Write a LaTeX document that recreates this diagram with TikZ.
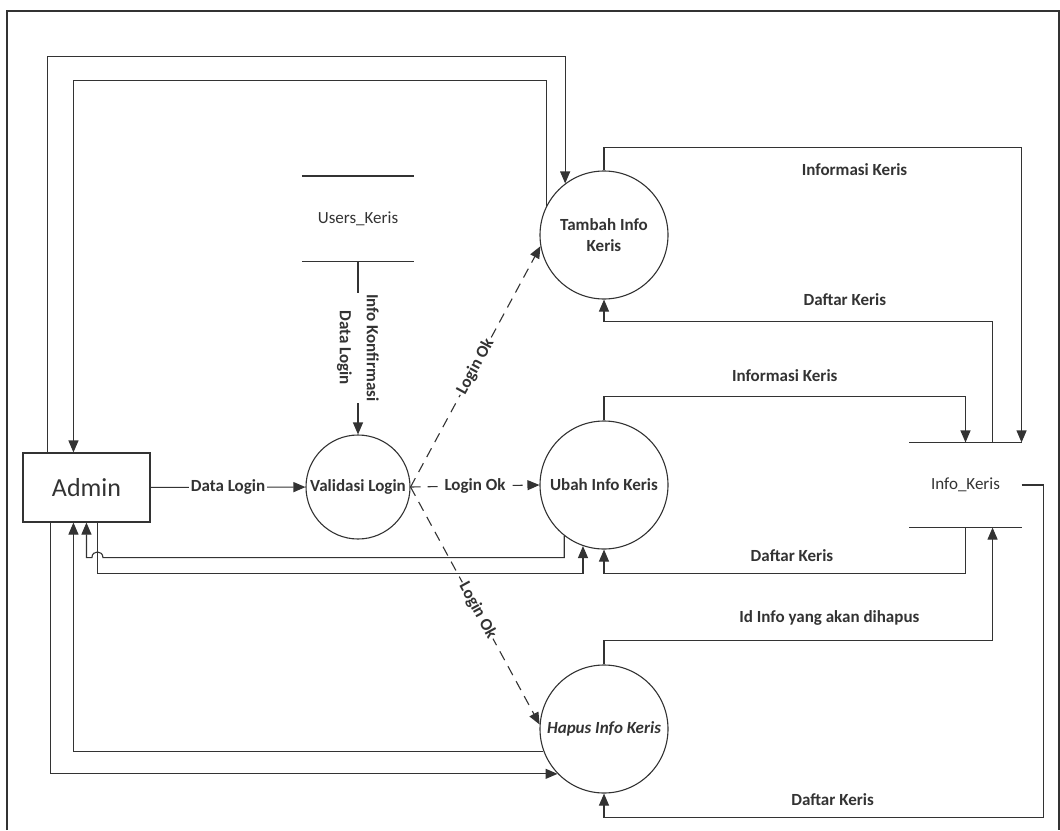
\documentclass[tikz,border=0pt]{standalone}
\usepackage{fontspec}
\setmainfont{Carlito}
\usetikzlibrary{arrows.meta,positioning}

\begin{document}
\begin{tikzpicture}[
    x=1pt,y=-1pt,
    line width=1.1pt, color=black!80,
    entity/.style={draw, minimum width=127pt, minimum height=69pt, inner sep=0pt,
      font=\fontsize{26}{30}\selectfont},
    process/.style={draw, circle, minimum size=128pt, inner sep=0pt, align=center,
      font=\bfseries\fontsize{17}{21}\selectfont},
    store/.style={minimum width=111pt, minimum height=84pt, inner sep=0pt,
      font=\fontsize{17}{20}\selectfont},
    flow/.style={-{Triangle[length=12pt,width=10pt]}},
    dflow/.style={flow, dash pattern=on 10pt off 7pt},
    lbl/.style={font=\bfseries\fontsize{17}{20}\selectfont, inner sep=1.5pt},
    onlbl/.style={lbl, fill=white}
  ]
    \useasboundingbox (0,0) rectangle (1060,830);
    \draw[line width=1.5pt] (7,830) -- (7,11) -- (1059,11) -- (1059,830);

    \node[entity] (admin) at (86.5,487.5) {Admin};
    \node[process, minimum size=104pt] (validasi) at (358,487) {Validasi Login};
    \node[process] (tambah) at (604,235) {Tambah Info\\Keris};
    \node[process] (ubah) at (604,485) {Ubah Info Keris};
    \node[process, font=\bfseries\itshape\fontsize{17}{21}\selectfont] (hapus) at (604,729) {Hapus Info Keris};
    \node[store] (users) at (358,218.5) {Users\_Keris};
    \node[store] (info) at (965.5,485) {Info\_Keris};

    % data store lines
    \draw (users.north west) -- (users.north east) (users.south west) -- (users.south east);
    \draw (info.north west) -- (info.north east) (info.south west) -- (info.south east);

    % login
    \draw[flow] (admin) -- node[onlbl] {Data Login} (validasi);
    \draw[flow] (users) -- node[onlbl, rotate=-90, align=center,
      font=\bfseries\fontsize{17}{27}\selectfont] {Info Konfirmasi\\Data Login} (validasi);
    \draw[dflow] (validasi.east) -- node[onlbl, sloped] {Login Ok} (tambah.190);
    \draw[dflow] (validasi.east) -- node[onlbl] {Login Ok} (ubah.west);
    \draw[dflow] (validasi.east) -- node[onlbl, sloped, pos=.52] {Login Ok} (hapus.176);

    % admin <-> processes
    \draw[flow] ([xshift=25pt]admin.north west) -- ++(0,-396) -| (tambah.127.5);
    \draw[flow] (tambah.153) |- ([shift={(51,-372)}]admin.north west) -- ([xshift=51pt]admin.north west);
    \draw[flow] (ubah.232.5) |- ([shift={(80.5,35)}]admin.south west)
      .. controls ([shift={(80.5,27.5)}]admin.south west) and ([shift={(69.5,27.5)}]admin.south west)
      .. ([shift={(69.5,35)}]admin.south west) -| ([xshift=64pt]admin.south west);
    \draw[flow] ([xshift=75pt]admin.south west) -- ++(0,51) -| (ubah.251.8);
    \draw[flow] ([xshift=28pt]admin.south west) |- (hapus.224.7);
    \draw[flow] (hapus.200) -| ([xshift=51pt]admin.south west);

    % processes <-> Info_Keris
    \draw[flow] (tambah.north) -- ++(0,-23) -| node[lbl, pos=.3, yshift=-22pt] {Informasi Keris} (info.north east);
    \draw[flow] ([xshift=-29pt]info.north east) |- node[lbl, pos=.69, yshift=22pt] {Daftar Keris}
      ([yshift=-22pt]tambah.south) -- (tambah.south);
    \draw[flow] (ubah.north) -- ++(0,-24) -| node[lbl, pos=.25, yshift=21pt] {Informasi Keris} (info.north);
    \draw[flow] (info.south) |- node[lbl, pos=.74, yshift=18pt] {Daftar Keris}
      ([yshift=-24pt]ubah.south) -- (ubah.south);
    \draw[flow] (hapus.north) -- ++(0,-24) -| node[lbl, pos=.29, yshift=22pt] {Id Info yang akan dihapus}
      ([xshift=-29pt]info.south east);
    \draw[flow] (info.east) -- ++(22,0) |- node[lbl, pos=.74, yshift=18pt] {Daftar Keris}
      ([yshift=-24pt]hapus.south) -- (hapus.south);
  \end{tikzpicture}
\end{document}
